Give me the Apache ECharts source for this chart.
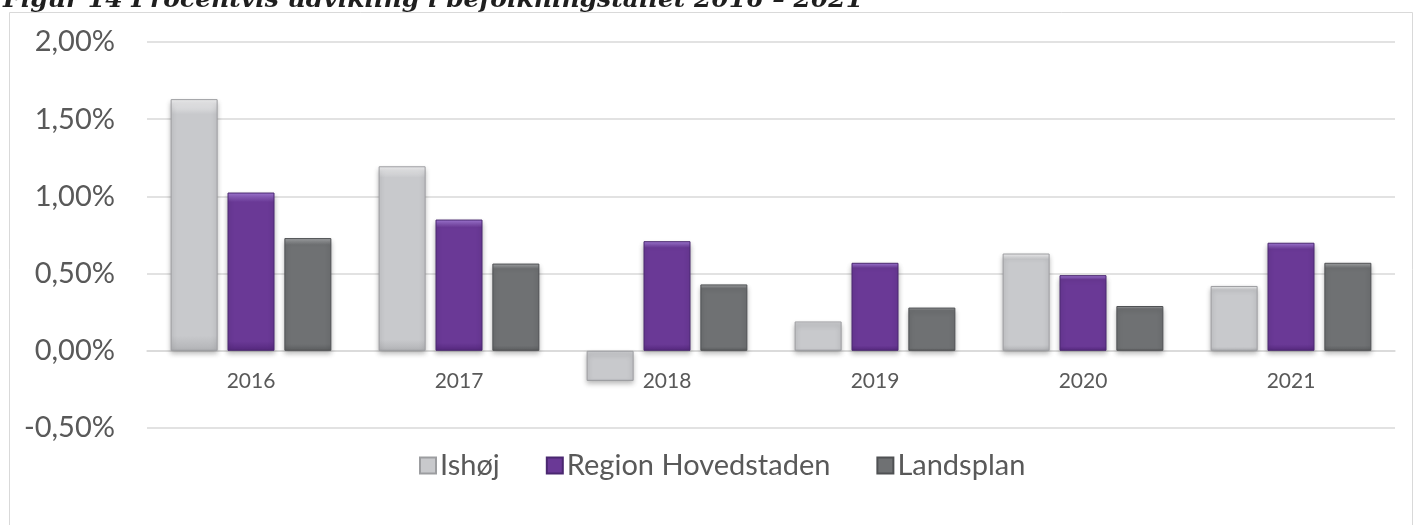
<!DOCTYPE html>
<html>
<head>
<meta charset="utf-8">
<script src="https://cdn.jsdelivr.net/npm/echarts@6/dist/echarts.min.js"></script>
<style>
  html, body { margin: 0; padding: 0; background: #fff; }
  #chart { width: 1417px; height: 525px; }
</style>
</head>
<body>
<div id="chart"></div>
<script>
const years = ['2016', '2017', '2018', '2019', '2020', '2021']
const ishoj = [1.63, 1.195, -0.195, 0.19, 0.63, 0.42]
const regionHovedstaden = [1.025, 0.85, 0.71, 0.57, 0.49, 0.70]
const landsplan = [0.73, 0.565, 0.43, 0.28, 0.29, 0.57]

const chart = echarts.init(document.getElementById('chart'))

// vertical gradient with a light band at the top, a bit like the bevel in Excel
function bevel(top, main, bottom) {
  return new echarts.graphic.LinearGradient(0, 0, 0, 1, [
    { offset: 0, color: top },
    { offset: 0.06, color: main },
    { offset: 0.94, color: main },
    { offset: 1, color: bottom }
  ])
}

function barSeries(name, data, fill, border) {
  return {
    name: name,
    type: 'bar',
    data: data,
    barWidth: 47,
    barGap: '21%',
    itemStyle: {
      color: fill,
      borderColor: border,
      borderWidth: 1,
      shadowColor: 'rgba(0, 0, 0, 0.3)',
      shadowBlur: 5,
      shadowOffsetY: 3
    }
  }
}

const option = {
  animation: false,
  backgroundColor: '#fff',
  textStyle: { fontFamily: 'Lato' },
  title: {
    text: 'Figur 14 Procentvis udvikling i befolkningstallet 2016 – 2021',
    left: -2,
    top: -17,
    textStyle: {
      fontFamily: 'DejaVu Serif',
      fontStyle: 'italic',
      fontWeight: 'bold',
      fontSize: 25,
      color: '#1f1f1f'
    }
  },
  graphic: [{
    type: 'rect',
    shape: { x: 9.5, y: 12.5, width: 1403, height: 530 },
    style: { fill: 'none', stroke: '#d9d9d9', lineWidth: 1 },
    silent: true,
    z: -1
  }],
  legend: {
    data: ['Ishøj', 'Region Hovedstaden', 'Landsplan'],
    top: 446,
    left: 414,
    icon: 'rect',
    itemWidth: 16,
    itemHeight: 16,
    itemGap: 46,
    textStyle: { color: '#595959', fontSize: 29, fontFamily: 'Lato', padding: [0, 0, 0, -1] }
  },
  grid: { left: 147, right: 22, top: 42, bottom: 97 },
  xAxis: {
    type: 'category',
    data: years,
    // labels sit under the zero line, as in the Excel chart
    offset: -77.2,
    axisLine: { show: true, onZero: false, lineStyle: { color: '#d9d9d9', width: 1.5 } },
    axisTick: { show: false },
    axisLabel: { color: '#595959', fontSize: 21, margin: 20 }
  },
  yAxis: {
    type: 'value',
    min: -0.5,
    max: 2,
    interval: 0.5,
    axisLine: { show: false },
    axisTick: { show: false },
    axisLabel: {
      color: '#595959',
      fontSize: 29,
      margin: 32,
      formatter: v => v.toFixed(2).replace('.', ',') + '%'
    },
    splitLine: { lineStyle: { color: '#d9d9d9', width: 1.5 } }
  },
  series: [
    barSeries('Ishøj', ishoj, bevel('#f2f2f3', '#c8c9cc', '#b2b3b6'), '#9c9da0'),
    barSeries('Region Hovedstaden', regionHovedstaden, bevel('#a27ad6', '#6a3996', '#55287e'), '#4a2870'),
    barSeries('Landsplan', landsplan, bevel('#a4a6a8', '#6f7173', '#5c5e60'), '#4f5153')
  ]
}

chart.setOption(option)
</script>
</body>
</html>
